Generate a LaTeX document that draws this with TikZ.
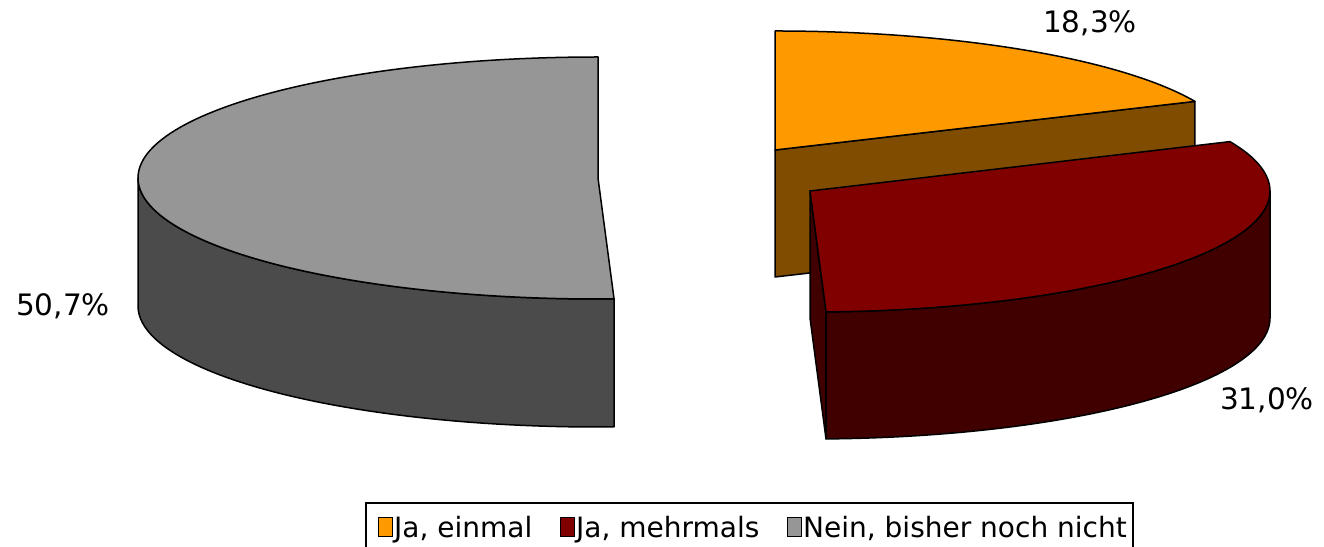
\documentclass[tikz,border=0pt]{standalone}
\usepackage{fontspec}
\setmainfont{DejaVu Sans}
\definecolor{otop}{HTML}{FF9900}
\definecolor{oside}{HTML}{7F4C00}
\definecolor{rtop}{HTML}{800000}
\definecolor{rside}{HTML}{400000}
\definecolor{gtop}{HTML}{969696}
\definecolor{gside}{HTML}{4B4B4B}
\begin{document}
\begin{tikzpicture}[x=1pt,y=1pt,
  face/.style={draw=black,line width=1.5,line join=round},
  lbl/.style={inner sep=0pt,font=\fontsize{29.5}{32}\selectfont},
  legtext/.style={inner sep=0pt,anchor=base west,font=\fontsize{28}{31}\selectfont},
  legsq/.style={draw=black,line width=1}]
\useasboundingbox (0,0) rectangle (1324,546);
% ---- gray slice (Nein, bisher noch nicht)
\filldraw[face,fill=gside] (138,368) arc[start angle=180,end angle=272,x radius=460,y radius=121]
   -- ++(0,-128) arc[start angle=272,end angle=180,x radius=460,y radius=121] -- cycle;
\filldraw[face,fill=gtop] (598,368) -- (598,489) arc[start angle=90,end angle=272,x radius=460,y radius=121] -- cycle;
% ---- orange slice (Ja, einmal)
\filldraw[face,fill=oside] (775,396) -- (1194.9,444.6) -- ++(0,-127) -- (775,269) -- cycle;
\filldraw[face,fill=otop] (775,396) -- (1194.9,444.6) arc[start angle=24.1,end angle=90,x radius=460,y radius=119] -- cycle;
% ---- red slice (Ja, mehrmals)
\filldraw[face,fill=rside] (810,355) -- (826,234.1) -- ++(0,-127) -- (810,228) -- cycle;
\filldraw[face,fill=rside] (1270,355) arc[start angle=0,end angle=-88,x radius=460,y radius=121]
   -- ++(0,-127) arc[start angle=-88,end angle=0,x radius=460,y radius=121] -- cycle;
\filldraw[face,fill=rtop] (810,355) -- (1229.9,404.4) arc[start angle=24.1,end angle=-88,x radius=460,y radius=121] -- cycle;
% ---- labels
\node[lbl] (l183) at (1090,523) {18,3\%};
\node[lbl] (l507) at (63,240) {50,7\%};
\node[lbl] (l310) at (1267,146) {31,0\%};
% ---- legend
\draw[line width=1.2] (366,-5) rectangle (1133,43);
\filldraw[legsq,fill=otop] (378,10) rectangle (392,29);
\node[legtext] (lg1) at (394,9) {Ja, einmal};
\filldraw[legsq,fill=rtop] (560,10) rectangle (574,29);
\node[legtext] (lg2) at (576,9) {Ja, mehrmals};
\filldraw[legsq,fill=gtop] (787,10) rectangle (801,29);
\node[legtext] (lg3) at (803,9) {Nein, bisher noch nicht};
\end{tikzpicture}
\end{document}
